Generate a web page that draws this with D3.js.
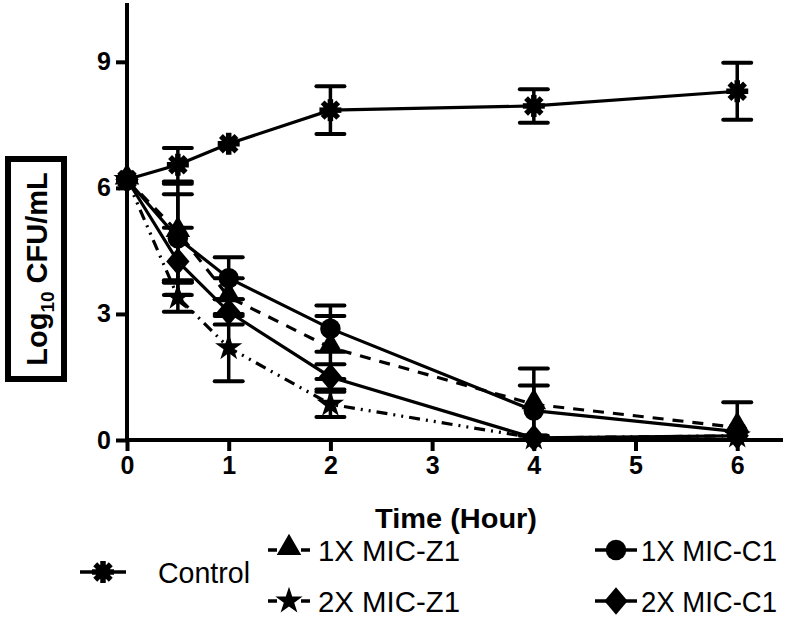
<!DOCTYPE html>
<html><head><meta charset="utf-8">
<script src="https://cdn.jsdelivr.net/npm/d3@7"></script>
<style>body{margin:0;background:#fff}svg{display:block}</style>
</head><body>
<svg id="c" width="792" height="634"></svg>
<script>
const times = [0, 0.5, 1, 2, 4, 6];
const xTicks = [0, 1, 2, 3, 4, 5, 6];
const yTicks = [0, 3, 6, 9];
const seriesNames = ["Control", "1X MIC-Z1", "2X MIC-Z1", "1X MIC-C1", "2X MIC-C1"];
const control    = [6.2, 6.55, 7.05, 7.85, 7.95, 8.3];
const controlErr = [0.12, 0.4, 0.12, 0.57, 0.4, 0.68];
const z1x    = [6.2, 4.95, 3.4, 2.2, 0.85, 0.3];
const z1xErr = [0.1, 1.15, 0.45, 0.75, 0.85, 0.6];
const z2x    = [6.2, 3.4, 2.2, 0.85, 0.05, 0.1];
const z2xErr = [0.1, 0.35, 0.8, 0.3, 0.05, 0.05];
const c1x    = [6.2, 4.8, 3.85, 2.65, 0.7, 0.2];
const c1xErr = [0.1, 1.05, 0.5, 0.55, 0.6, 0.1];
const c2x    = [6.2, 4.25, 3.05, 1.5, 0.05, 0.1];
const c2xErr = [0.1, 0.8, 0.3, 0.3, 0.05, 0.05];

const series = [
  {name: seriesNames[0], v: control, e: controlErr, dash: null, sym: "asterisk"},
  {name: seriesNames[1], v: z1x, e: z1xErr, dash: "11,9", sym: "triangle"},
  {name: seriesNames[2], v: z2x, e: z2xErr, dash: "11,6,2,6,2,6", sym: "star"},
  {name: seriesNames[3], v: c1x, e: c1xErr, dash: null, sym: "circle"},
  {name: seriesNames[4], v: c2x, e: c2xErr, dash: null, sym: "diamond"}
];

const svg = d3.select("#c");
const x = d3.scaleLinear().domain([0, 6.45]).range([127, 783]);
const y = d3.scaleLinear().domain([0, 10.4]).range([440, 3]);
const FONT = "'Liberation Sans', Arial, sans-serif";

function drawMarker(g, sym, cx, cy) {
  const m = g.append("g").attr("transform", `translate(${cx},${cy})`);
  if (sym === "asterisk") {
    [0, 45, 90, 135].forEach(a => {
      m.append("line").attr("x1", -11).attr("x2", 11).attr("y1", 0).attr("y2", 0)
        .attr("transform", `rotate(${a})`).attr("stroke", "#000").attr("stroke-width", 5.5);
    });
    m.append("circle").attr("r", 7.5).attr("fill", "#000");
  } else {
    const types = {triangle: d3.symbolTriangle, star: d3.symbolStar, circle: d3.symbolCircle, diamond: d3.symbolDiamond};
    const sizes = {triangle: 260, star: 230, circle: 330, diamond: 300};
    let sh = m.append("path").attr("d", d3.symbol().type(types[sym]).size(sizes[sym])()).attr("fill", "#000");
    if (sym === "diamond") sh.attr("transform", "scale(1.25,0.85)");
    if (sym === "triangle") sh.attr("transform", "translate(0,-2)");
  }
}

// error bars
series.forEach(s => {
  const g = svg.append("g");
  times.forEach((t, i) => {
    if (s.e[i] < 0.15) return;
    const cx = x(t), top = y(s.v[i] + s.e[i]), bot = y(Math.max(0, s.v[i] - s.e[i]));
    g.append("line").attr("x1", cx).attr("x2", cx).attr("y1", top).attr("y2", bot)
      .attr("stroke", "#000").attr("stroke-width", 3.5);
    [top, bot].forEach(yy => g.append("line").attr("x1", cx - 14).attr("x2", cx + 14)
      .attr("y1", yy).attr("y2", yy).attr("stroke", "#000").attr("stroke-width", 4).attr("stroke-linecap", "round"));
  });
});

// lines
const line = d3.line().x((d, i) => x(times[i])).y(d => y(d));
series.forEach(s => {
  svg.append("path").attr("d", line(s.v)).attr("fill", "none").attr("stroke", "#000")
    .attr("stroke-width", 3.2).attr("stroke-dasharray", s.dash);
});

// markers
series.forEach(s => {
  const g = svg.append("g");
  times.forEach((t, i) => drawMarker(g, s.sym, x(t), y(s.v[i])));
});

// axes
const xAxis = d3.axisBottom(x).tickValues(xTicks).tickSize(11).tickPadding(5).tickFormat(d3.format("d"));
const gx = svg.append("g").attr("transform", "translate(0,440)").call(xAxis);
const yAxis = d3.axisLeft(y).tickValues(yTicks).tickSize(11).tickPadding(5).tickFormat(d3.format("d"));
const gy = svg.append("g").attr("transform", "translate(127,0)").call(yAxis);
[gx, gy].forEach(g => {
  g.select(".domain").attr("stroke-width", 4);
  g.selectAll(".tick line").attr("stroke-width", 4);
  g.selectAll(".tick text").attr("font-family", FONT).attr("font-weight", "bold")
    .attr("font-size", 25).attr("fill", "#000");
});
gx.select(".domain").attr("d", "M127,0H783");
gy.select(".domain").attr("d", "M0,442V3");

// x label
svg.append("text").attr("x", 456).attr("y", 528).attr("text-anchor", "middle")
  .attr("font-family", FONT).attr("font-weight", "bold").attr("font-size", 27)
  .attr("textLength", 162).attr("lengthAdjust", "spacingAndGlyphs").text("Time (Hour)");

// y label with box
svg.append("rect").attr("x", 8).attr("y", 159).attr("width", 56).attr("height", 220)
  .attr("fill", "#fff").attr("stroke", "#000").attr("stroke-width", 6);
const yl = svg.append("text").attr("transform", "translate(47,269) rotate(-90)")
  .attr("text-anchor", "middle").attr("font-family", FONT).attr("font-weight", "bold").attr("font-size", 29);
yl.append("tspan").text("Log");
yl.append("tspan").attr("font-size", 19).attr("dy", 7).text("10");
yl.append("tspan").attr("dy", -7).text(" CFU/mL");

// legend
const legend = [
  {i: 0, lx: 80, ly: 572, tx: 158, tl: 92},
  {i: 1, lx: 268, ly: 550, tx: 318, tl: 142},
  {i: 2, lx: 268, ly: 601, tx: 318, tl: 142},
  {i: 3, lx: 595, ly: 550, tx: 641, tl: 136},
  {i: 4, lx: 595, ly: 601, tx: 641, tl: 136}
];
legend.forEach(L => {
  const s = series[L.i];
  const g = svg.append("g");
  const w = L.i === 0 ? 46 : 42;
  g.append("line").attr("x1", L.lx).attr("x2", L.lx + w).attr("y1", L.ly).attr("y2", L.ly)
    .attr("stroke", "#000").attr("stroke-width", 3.5)
    .attr("stroke-dasharray", s.dash ? "9,24,9" : null);
  drawMarker(g, s.sym, L.lx + w / 2, L.ly);
  g.append("text").attr("x", L.tx).attr("y", L.ly + 11).attr("font-family", FONT)
    .attr("font-size", 29).attr("textLength", L.tl).attr("lengthAdjust", "spacingAndGlyphs")
    .text(s.name);
});
</script>
</body></html>
